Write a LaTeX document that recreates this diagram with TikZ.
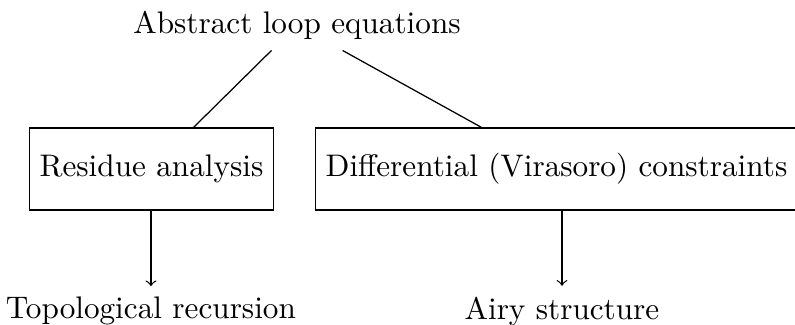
\documentclass[tikz,border=0pt]{standalone}
\usepackage{amsmath}
\usepackage{amssymb}
\usepackage{tikz}

\begin{document}
\begin{tikzpicture}
    \useasboundingbox (0,0) rectangle (8.953,-3.649);
    % Top node
    \node (abstract) at (3.345,-0.284) {Abstract loop equations};

    % Middle boxes
    \node[draw, minimum height=0.923cm] (residue) at (1.706,-1.903) {Residue analysis};
    \node[draw, minimum height=0.923cm] (virasoro) at (6.267,-1.903) {Differential (Virasoro) constraints};

    % Results
    \node (toprec) at (1.70,-3.505) {Topological recursion};
    \node (airy) at (6.329,-3.505) {Airy structure};

    % Connections
    \draw (abstract) -- (residue);
    \draw (abstract) -- (virasoro);
    \draw[->] (residue.south -| toprec) -- (toprec);
    \draw[->] (virasoro.south -| airy) -- (airy);
\end{tikzpicture}
\end{document}
